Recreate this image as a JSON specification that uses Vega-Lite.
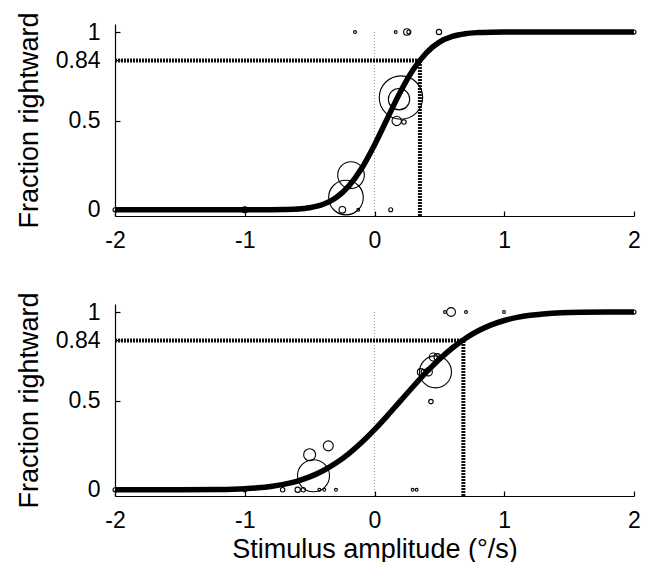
{
  "$schema": "https://vega.github.io/schema/vega-lite/v6.json",
  "background": "white",
  "padding": {"left": 15, "top": 11, "right": 5, "bottom": 0},
  "spacing": 88,
  "bounds": "flush",
  "config": {
    "view": {"stroke": null},
    "font": "Liberation Sans",
    "axis": {
      "grid": false,
      "domainColor": "black",
      "domainWidth": 1.2,
      "tickColor": "black",
      "tickWidth": 1.2,
      "tickSize": -5,
      "labelColor": "black",
      "labelFontSize": 23,
      "labelFont": "Liberation Sans",
      "labelFlush": false,
      "labelOverlap": false,
      "titleColor": "black",
      "titleFont": "Liberation Sans",
      "titleFontSize": 27,
      "titleFontWeight": "normal"
    }
  },
  "datasets": {
    "zero": [
      {"panel": "top", "x": 0, "y": -0.035, "y2": 1},
      {"panel": "bottom", "x": 0, "y": -0.035, "y2": 1}
    ],
    "hthr": [
      {"panel": "top", "x": -2, "x2": 0.35, "y": 0.84},
      {"panel": "bottom", "x": -2, "x2": 0.685, "y": 0.84}
    ],
    "vthr": [
      {"panel": "top", "x": 0.35, "y": -0.035, "y2": 0.84},
      {"panel": "bottom", "x": 0.685, "y": -0.035, "y2": 0.84}
    ],
    "points": [
      {"panel": "top", "x": -2, "y": 0, "n": 4},
      {"panel": "top", "x": -1, "y": 0, "n": 9},
      {"panel": "top", "x": -0.59, "y": 0, "n": 2},
      {"panel": "top", "x": -0.248, "y": 0, "n": 11},
      {"panel": "top", "x": -0.125, "y": 0, "n": 2},
      {"panel": "top", "x": 0.125, "y": 0, "n": 4},
      {"panel": "top", "x": -0.22, "y": 0.069, "n": 300},
      {"panel": "top", "x": -0.181, "y": 0.195, "n": 177},
      {"panel": "top", "x": 0.171, "y": 0.5, "n": 22},
      {"panel": "top", "x": 0.227, "y": 0.494, "n": 5},
      {"panel": "top", "x": 0.189, "y": 0.622, "n": 114},
      {"panel": "top", "x": 0.204, "y": 0.631, "n": 471},
      {"panel": "top", "x": -0.15, "y": 1, "n": 2},
      {"panel": "top", "x": 0.163, "y": 1, "n": 2},
      {"panel": "top", "x": 0.25, "y": 1, "n": 11},
      {"panel": "top", "x": 0.265, "y": 1, "n": 4},
      {"panel": "top", "x": 0.497, "y": 1, "n": 7},
      {"panel": "top", "x": 2, "y": 1, "n": 4},
      {"panel": "bottom", "x": -2, "y": 0, "n": 4},
      {"panel": "bottom", "x": -1, "y": 0, "n": 4},
      {"panel": "bottom", "x": -0.708, "y": 0, "n": 5},
      {"panel": "bottom", "x": -0.592, "y": 0, "n": 7},
      {"panel": "bottom", "x": -0.549, "y": 0, "n": 5},
      {"panel": "bottom", "x": -0.425, "y": 0, "n": 2},
      {"panel": "bottom", "x": -0.387, "y": 0, "n": 2},
      {"panel": "bottom", "x": -0.297, "y": 0, "n": 2},
      {"panel": "bottom", "x": 0.294, "y": 0, "n": 2},
      {"panel": "bottom", "x": 0.325, "y": 0, "n": 2},
      {"panel": "bottom", "x": -0.47, "y": 0.079, "n": 256},
      {"panel": "bottom", "x": -0.5, "y": 0.197, "n": 36},
      {"panel": "bottom", "x": -0.356, "y": 0.247, "n": 25},
      {"panel": "bottom", "x": 0.435, "y": 0.496, "n": 5},
      {"panel": "bottom", "x": 0.47, "y": 0.663, "n": 256},
      {"panel": "bottom", "x": 0.356, "y": 0.663, "n": 11},
      {"panel": "bottom", "x": 0.38, "y": 0.663, "n": 7},
      {"panel": "bottom", "x": 0.415, "y": 0.663, "n": 16},
      {"panel": "bottom", "x": 0.453, "y": 0.747, "n": 16},
      {"panel": "bottom", "x": 0.484, "y": 0.747, "n": 11},
      {"panel": "bottom", "x": 0.543, "y": 1, "n": 2},
      {"panel": "bottom", "x": 0.59, "y": 1, "n": 19},
      {"panel": "bottom", "x": 0.705, "y": 1, "n": 2},
      {"panel": "bottom", "x": 0.998, "y": 1, "n": 2},
      {"panel": "bottom", "x": 2, "y": 1, "n": 4}
    ],
    "curve": [
      {"panel": "top", "x": -2, "y": 0},
      {"panel": "top", "x": -1, "y": 0},
      {"panel": "top", "x": -0.8, "y": 0.0003},
      {"panel": "top", "x": -0.7, "y": 0.0012},
      {"panel": "top", "x": -0.6, "y": 0.004},
      {"panel": "top", "x": -0.5, "y": 0.0116},
      {"panel": "top", "x": -0.4, "y": 0.0297},
      {"panel": "top", "x": -0.3, "y": 0.0668},
      {"panel": "top", "x": -0.2, "y": 0.132},
      {"panel": "top", "x": -0.1, "y": 0.232},
      {"panel": "top", "x": 0, "y": 0.365},
      {"panel": "top", "x": 0.1, "y": 0.515},
      {"panel": "top", "x": 0.2, "y": 0.664},
      {"panel": "top", "x": 0.3, "y": 0.79},
      {"panel": "top", "x": 0.4, "y": 0.883},
      {"panel": "top", "x": 0.5, "y": 0.943},
      {"panel": "top", "x": 0.6, "y": 0.975},
      {"panel": "top", "x": 0.7, "y": 0.9905},
      {"panel": "top", "x": 0.8, "y": 0.9968},
      {"panel": "top", "x": 0.9, "y": 0.9991},
      {"panel": "top", "x": 1.0, "y": 0.9998},
      {"panel": "top", "x": 1.2, "y": 1},
      {"panel": "top", "x": 2, "y": 1},
      {"panel": "bottom", "x": -2, "y": 0},
      {"panel": "bottom", "x": -1.5, "y": 0.0002},
      {"panel": "bottom", "x": -1.2, "y": 0.0018},
      {"panel": "bottom", "x": -1.0, "y": 0.0062},
      {"panel": "bottom", "x": -0.9, "y": 0.011},
      {"panel": "bottom", "x": -0.8, "y": 0.0186},
      {"panel": "bottom", "x": -0.7, "y": 0.0304},
      {"panel": "bottom", "x": -0.6, "y": 0.0478},
      {"panel": "bottom", "x": -0.5, "y": 0.0724},
      {"panel": "bottom", "x": -0.4, "y": 0.1056},
      {"panel": "bottom", "x": -0.3, "y": 0.1488},
      {"panel": "bottom", "x": -0.2, "y": 0.2024},
      {"panel": "bottom", "x": -0.1, "y": 0.266},
      {"panel": "bottom", "x": 0, "y": 0.3385},
      {"panel": "bottom", "x": 0.1, "y": 0.4175},
      {"panel": "bottom", "x": 0.2, "y": 0.5},
      {"panel": "bottom", "x": 0.3, "y": 0.5825},
      {"panel": "bottom", "x": 0.4, "y": 0.6615},
      {"panel": "bottom", "x": 0.5, "y": 0.734},
      {"panel": "bottom", "x": 0.6, "y": 0.7976},
      {"panel": "bottom", "x": 0.7, "y": 0.8512},
      {"panel": "bottom", "x": 0.8, "y": 0.8944},
      {"panel": "bottom", "x": 0.9, "y": 0.9276},
      {"panel": "bottom", "x": 1.0, "y": 0.9522},
      {"panel": "bottom", "x": 1.1, "y": 0.9696},
      {"panel": "bottom", "x": 1.2, "y": 0.9814},
      {"panel": "bottom", "x": 1.3, "y": 0.989},
      {"panel": "bottom", "x": 1.4, "y": 0.9938},
      {"panel": "bottom", "x": 1.5, "y": 0.9967},
      {"panel": "bottom", "x": 1.6, "y": 0.9983},
      {"panel": "bottom", "x": 1.8, "y": 0.9996},
      {"panel": "bottom", "x": 2, "y": 0.9999}
    ]
  },
  "vconcat": [
    {
      "width": 519,
      "height": 192,
      "encoding": {
        "x": {"field": "x", "type": "quantitative",
              "scale": {"domain": [-2, 2], "nice": false, "zero": false},
              "axis": {"values": [-2, -1, 0, 1, 2], "labelPadding": 18, "labelExpr": "'' + datum.value", "title": null}},
        "y": {"field": "y", "type": "quantitative",
              "scale": {"domain": [-0.035, 1.045], "nice": false, "zero": false},
              "axis": {"values": [0, 0.5, 0.84, 1], "labelPadding": 20, "labelExpr": "'' + datum.value", "title": "Fraction rightward", "titlePadding": 12}}
      },
      "layer": [
        {"data": {"name": "zero"}, "transform": [{"filter": "datum.panel === 'top'"}],
         "mark": {"type": "rule", "color": "#9a9a9a", "strokeWidth": 1, "strokeDash": [1, 2]},
         "encoding": {"y2": {"field": "y2"}}},
        {"data": {"name": "hthr"}, "transform": [{"filter": "datum.panel === 'top'"}],
         "mark": {"type": "rule", "color": "#111111", "strokeWidth": 4, "strokeDash": [2, 1]},
         "encoding": {"x2": {"field": "x2"}}},
        {"data": {"name": "vthr"}, "transform": [{"filter": "datum.panel === 'top'"}],
         "mark": {"type": "rule", "color": "#111111", "strokeWidth": 4, "strokeDash": [2, 1]},
         "encoding": {"y2": {"field": "y2"}}},
        {"data": {"name": "points"}, "transform": [{"filter": "datum.panel === 'top'"}],
         "mark": {"type": "point", "shape": "circle", "filled": false, "stroke": "black", "strokeWidth": 1.1, "opacity": 1},
         "encoding": {"size": {"field": "n", "type": "quantitative", "scale": {"type": "linear", "domain": [0, 100], "range": [0, 400]}, "legend": null}}},
        {"data": {"name": "curve"}, "transform": [{"filter": "datum.panel === 'top'"}],
         "mark": {"type": "line", "color": "black", "strokeWidth": 5.5, "interpolate": "monotone"},
         "encoding": {"order": {"field": "x", "type": "quantitative"}}}
      ]
    },
    {
      "width": 519,
      "height": 192,
      "encoding": {
        "x": {"field": "x", "type": "quantitative",
              "scale": {"domain": [-2, 2], "nice": false, "zero": false},
              "axis": {"values": [-2, -1, 0, 1, 2], "labelPadding": 18, "labelExpr": "'' + datum.value", "title": "Stimulus amplitude (°/s)", "titlePadding": 4}},
        "y": {"field": "y", "type": "quantitative",
              "scale": {"domain": [-0.035, 1.045], "nice": false, "zero": false},
              "axis": {"values": [0, 0.5, 0.84, 1], "labelPadding": 20, "labelExpr": "'' + datum.value", "title": "Fraction rightward", "titlePadding": 12}}
      },
      "layer": [
        {"data": {"name": "zero"}, "transform": [{"filter": "datum.panel === 'bottom'"}],
         "mark": {"type": "rule", "color": "#9a9a9a", "strokeWidth": 1, "strokeDash": [1, 2]},
         "encoding": {"y2": {"field": "y2"}}},
        {"data": {"name": "hthr"}, "transform": [{"filter": "datum.panel === 'bottom'"}],
         "mark": {"type": "rule", "color": "#111111", "strokeWidth": 4, "strokeDash": [2, 1]},
         "encoding": {"x2": {"field": "x2"}}},
        {"data": {"name": "vthr"}, "transform": [{"filter": "datum.panel === 'bottom'"}],
         "mark": {"type": "rule", "color": "#111111", "strokeWidth": 4, "strokeDash": [2, 1]},
         "encoding": {"y2": {"field": "y2"}}},
        {"data": {"name": "points"}, "transform": [{"filter": "datum.panel === 'bottom'"}],
         "mark": {"type": "point", "shape": "circle", "filled": false, "stroke": "black", "strokeWidth": 1.1, "opacity": 1},
         "encoding": {"size": {"field": "n", "type": "quantitative", "scale": {"type": "linear", "domain": [0, 100], "range": [0, 400]}, "legend": null}}},
        {"data": {"name": "curve"}, "transform": [{"filter": "datum.panel === 'bottom'"}],
         "mark": {"type": "line", "color": "black", "strokeWidth": 5.5, "interpolate": "monotone"},
         "encoding": {"order": {"field": "x", "type": "quantitative"}}}
      ]
    }
  ]
}
